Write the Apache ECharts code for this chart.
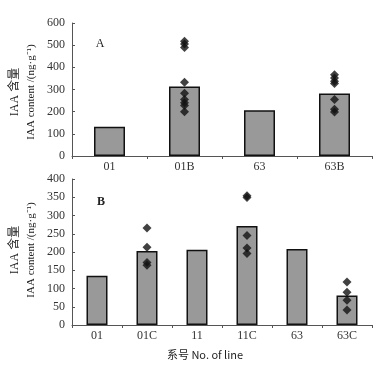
<!DOCTYPE html>
<html>
<head>
<meta charset="utf-8">
<script src="https://cdn.jsdelivr.net/npm/echarts@6/dist/echarts.min.js"></script>
<style>
  html, body { margin: 0; padding: 0; background: #fff; }
  #chart { width: 379px; height: 369px; }
</style>
</head>
<body>
<div id="chart"></div>
<script>
  // panel A
  var catsA = ['01', '01B', '63', '63B'];
  var meanA = [132, 314, 206, 282];
  var dots01B = [518, 505, 490, 333, 283, 255, 240, 228, 200];
  var dots63B = [366, 352, 337, 327, 255, 211, 198];
  var ticksA = [0, 100, 200, 300, 400, 500, 600];

  // panel B
  var catsB = ['01', '01C', '11', '11C', '63', '63C'];
  var meanB = [135, 203, 206, 271, 208, 81];
  var dots01C = [266, 213, 171, 164];
  var dots11C = [354, 349, 245, 211, 196];
  var dots63C = [118, 90, 68, 41];
  var ticksB = [0, 50, 100, 150, 200, 250, 300, 350, 400];

  var serif = 'Liberation Serif';
  var axisCol = '#555';

  function pts(cat, vals) {
    return vals.map(function (v) { return [cat, v]; });
  }

  function xAx(cats, idx) {
    return {
      type: 'category', data: cats, gridIndex: idx,
      axisLine: { lineStyle: { color: axisCol, width: 1 } },
      axisTick: { show: true, length: 3, lineStyle: { color: axisCol } },
      axisLabel: { color: '#333', fontFamily: serif, fontSize: 12, margin: 5 }
    };
  }
  function yAx(ticks, idx) {
    var step = ticks[1] - ticks[0];
    return {
      type: 'value', gridIndex: idx, min: ticks[0], max: ticks[ticks.length - 1], interval: step,
      axisLine: { show: true, lineStyle: { color: axisCol, width: 1 } },
      axisTick: { show: true, inside: true, length: 3, lineStyle: { color: axisCol } },
      axisLabel: { color: '#333', fontFamily: serif, fontSize: 12, margin: 7 },
      splitLine: { show: false }
    };
  }

  var barStyle = { color: '#999', borderColor: '#111', borderWidth: 1.5 };
  var dotStyle = { color: '#111' };

  var myChart = echarts.init(document.getElementById('chart'));
  var options = {
    backgroundColor: '#fff',
    animation: false,
    grid: [
      { left: 72, right: 7, top: 23, height: 133 },
      { left: 72, right: 7, top: 179, height: 146 }
    ],
    xAxis: [xAx(catsA, 0), xAx(catsB, 1)],
    yAxis: [yAx(ticksA, 0), yAx(ticksB, 1)],
    series: [
      { type: 'bar', xAxisIndex: 0, yAxisIndex: 0, data: meanA, barWidth: 31, itemStyle: barStyle },
      { type: 'scatter', xAxisIndex: 0, yAxisIndex: 0, data: pts('01B', dots01B).concat(pts('63B', dots63B)),
        symbol: 'diamond', symbolSize: 9, itemStyle: dotStyle },
      { type: 'bar', xAxisIndex: 1, yAxisIndex: 1, data: meanB, barWidth: 21, itemStyle: barStyle },
      { type: 'scatter', xAxisIndex: 1, yAxisIndex: 1,
        data: pts('01C', dots01C).concat(pts('11C', dots11C), pts('63C', dots63C)),
        symbol: 'diamond', symbolSize: 9, itemStyle: dotStyle }
    ],
    graphic: [
      { type: 'text', x: 100, y: 44, style: { text: 'A', font: '12px "Liberation Serif"', fill: '#222', align: 'center', verticalAlign: 'middle' } },
      { type: 'text', x: 101, y: 202, style: { text: 'B', font: 'bold 12px "Liberation Serif"', fill: '#222', align: 'center', verticalAlign: 'middle' } },
      // y titles panel A
      { type: 'text', x: 15, y: 92, rotation: Math.PI / 2, style: { text: 'IAA 含量', font: '12px "Liberation Serif", "Noto Sans CJK SC"', fill: '#222', align: 'center', verticalAlign: 'middle' } },
      { type: 'text', x: 31, y: 92, rotation: Math.PI / 2, style: { text: 'IAA content /(ng·g⁻¹)', font: '11px "Liberation Serif"', fill: '#222', align: 'center', verticalAlign: 'middle' } },
      // y titles panel B
      { type: 'text', x: 15, y: 250, rotation: Math.PI / 2, style: { text: 'IAA 含量', font: '12px "Liberation Serif", "Noto Sans CJK SC"', fill: '#222', align: 'center', verticalAlign: 'middle' } },
      { type: 'text', x: 31, y: 250, rotation: Math.PI / 2, style: { text: 'IAA content /(ng·g⁻¹)', font: '11px "Liberation Serif"', fill: '#222', align: 'center', verticalAlign: 'middle' } },
      // x title
      { type: 'text', x: 205, y: 355, style: { text: '系号 No. of line', font: '11px "Noto Sans CJK SC"', fill: '#222', align: 'center', verticalAlign: 'middle' } }
    ]
  };
  myChart.setOption(options);
</script>
</body>
</html>
